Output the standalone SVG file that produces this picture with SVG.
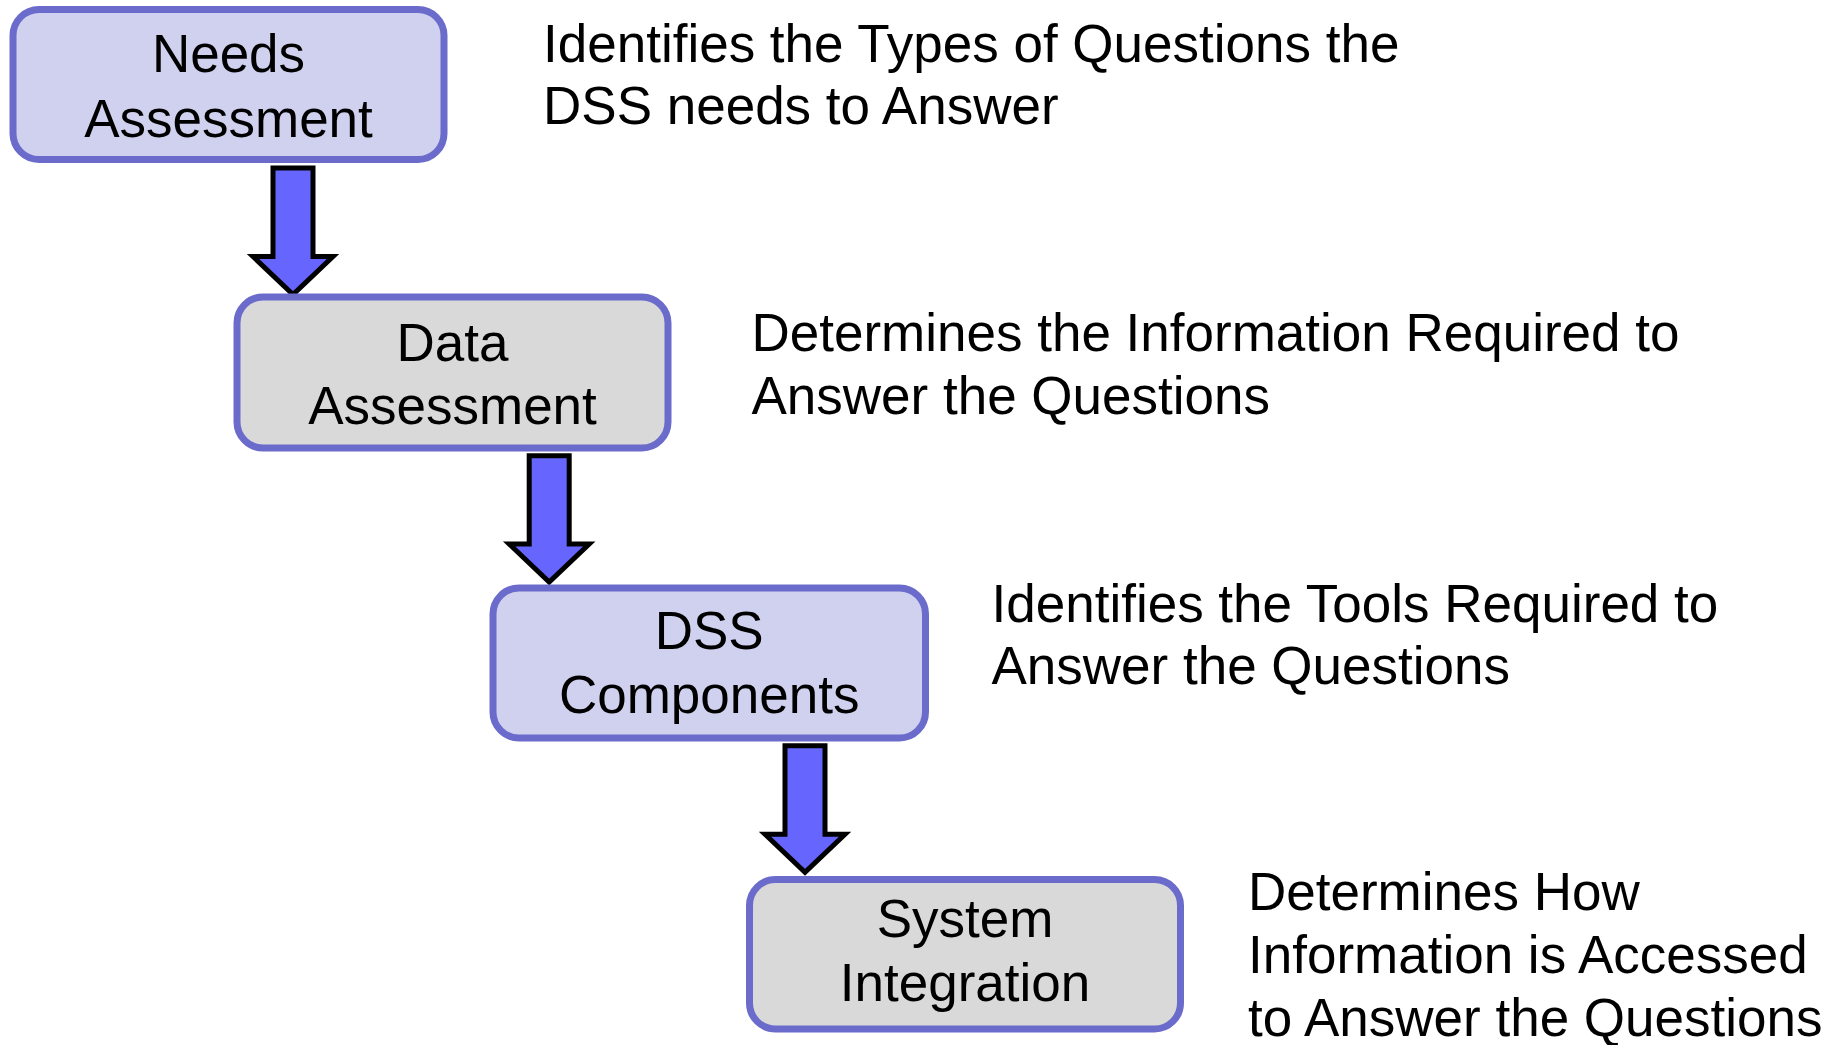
<svg xmlns="http://www.w3.org/2000/svg" width="1845" height="1045" viewBox="0 0 1845 1045">
<style>
.box{stroke:#6B6BCC;stroke-width:7}
.blue{fill:#D0D1EF}
.grey{fill:#D9D9D9}
.arrow{fill:#6666FF;stroke:#000;stroke-width:5;stroke-linejoin:miter;stroke-miterlimit:10}
text{font-family:"Liberation Sans",Arial,sans-serif;font-size:53px;fill:#000}
.c{text-anchor:middle}
</style>
<rect width="1845" height="1045" fill="#fff"/>
<g id="connectors">
<polygon class="arrow" points="273,168 313,168 313,256.5 333,256.5 293,294.5 253,256.5 273,256.5"/>
<polygon class="arrow" points="529.2,455.8 569.2,455.8 569.2,544 589.2,544 549.2,582 509.2,544 529.2,544"/>
<polygon class="arrow" points="785,745.8 825,745.8 825,834.2 845,834.2 805,872.2 765,834.2 785,834.2"/>
</g>
<g id="needs-assessment">
<rect class="box blue" x="13" y="9.5" width="431" height="150" rx="26"/>
<text class="c" x="228.5" y="72">Needs</text>
<text class="c" x="228.5" y="136.5">Assessment</text>
</g>
<g id="data-assessment">
<rect class="box grey" x="237" y="297" width="431" height="151" rx="26"/>
<text class="c" x="452.5" y="360.5">Data</text>
<text class="c" x="452.5" y="424">Assessment</text>
</g>
<g id="dss-components">
<rect class="box blue" x="493" y="588" width="432.5" height="150" rx="26"/>
<text class="c" x="709.2" y="649">DSS</text>
<text class="c" x="709.2" y="712.5">Components</text>
</g>
<g id="system-integration">
<rect class="box grey" x="749.5" y="879.5" width="431" height="149.5" rx="26"/>
<text class="c" x="965" y="936.5">System</text>
<text class="c" x="965" y="1000.5">Integration</text>
</g>
<g id="desc-needs">
<text x="543" y="61.5">Identifies the Types of Questions the</text>
<text x="543" y="124">DSS needs to Answer</text>
</g>
<g id="desc-data">
<text x="751.5" y="351">Determines the Information Required to</text>
<text x="751.5" y="413.5">Answer the Questions</text>
</g>
<g id="desc-dss">
<text x="991.5" y="621.5">Identifies the Tools Required to</text>
<text x="991.5" y="683.5">Answer the Questions</text>
</g>
<g id="desc-system">
<text x="1248" y="910">Determines How</text>
<text x="1248" y="973">Information is Accessed</text>
<text x="1248" y="1036">to Answer the Questions</text>
</g>
</svg>
